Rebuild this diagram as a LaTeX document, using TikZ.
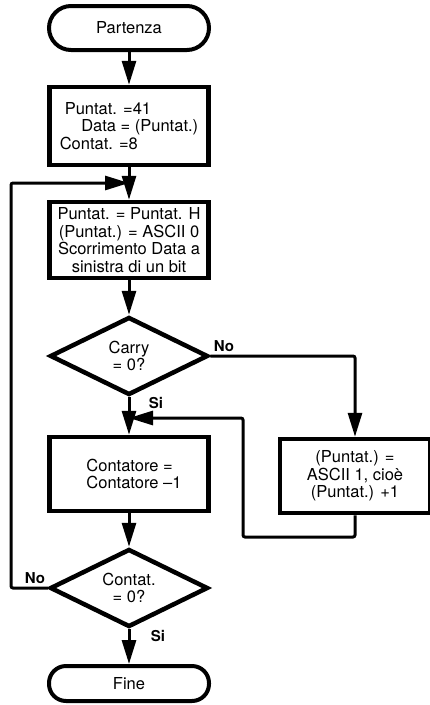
\documentclass[tikz,border=0pt]{standalone}
\usepackage{fontspec}
\setmainfont{TeX Gyre Heros}
\usetikzlibrary{positioning, arrows.meta, shapes.geometric}

\begin{document}
\begin{tikzpicture}[x=1pt, y=-1pt, >={Triangle[length=24pt,width=14pt]},
  font=\fontsize{16.5}{17.5}\selectfont,
  term/.style={draw, line width=4pt, rounded corners=#1, inner sep=2pt, minimum width=160pt},
  proc/.style={draw, line width=4.5pt, inner sep=1pt, minimum width=159pt, minimum height=76pt},
  test/.style={draw, diamond, aspect=2, line width=4.5pt, inner sep=0pt, align=center,
    minimum width=158pt, minimum height=78pt},
  conn/.style={line width=3pt, rounded corners=2pt},
  lbl/.style={font=\fontsize{15}{16}\selectfont\bfseries}]
  \useasboundingbox (0,0) rectangle (430,705);
  \node[term=22pt, minimum height=44pt] (start) at (129,28) {Partenza};
  \node[proc, minimum height=78pt, align=left] (init) at (129,126)
    {\hspace{0.3em}Puntat. =41\\ \hspace{1.3em}Data = (Puntat.)\\Contat. =8};
  \node[proc, align=center] (shift) at (129,240)
    {Puntat. = Puntat. H\\(Puntat.) = ASCII 0\\Scorrimento Data a\\sinistra di un bit};
  \node[test] (carry) at (129,356) {Carry\\= 0?};
  \node[proc, minimum height=74pt, align=left] (dec) at (129,474)
    {\hspace{0.6em}Contatore =\\ \hspace{0.6em}Contatore --1};
  \node[proc, minimum width=150pt, minimum height=74pt, align=center] (set1) at (355,476)
    {(Puntat.) =\\ASCII 1, cioè\\(Puntat.) +1};
  \node[test] (cnt) at (129,588) {Contat.\\= 0?};
  \node[term=17pt, minimum height=35pt] (stop) at (129,683.5) {Fine};

  \coordinate (loop) at (11,183);
  \coordinate (join1) at (129,183);
  \coordinate (ret) at (243,537);
  \coordinate (join2) at (129,418);

  \draw[conn,->] (start) -- (init);
  \draw[conn,->] (init) -- (shift);
  \draw[conn,->] (shift) -- (carry);
  \draw[conn,->] (carry) -- (dec);
  \draw[conn,->] (dec) -- (cnt);
  \draw[conn,->] (cnt) -- (stop);
  \draw[conn,->] (carry.east) -| (set1);
  \draw[conn,->] (set1.south) |- (ret) |- (join2);
  \draw[conn,->] (cnt.west) -| (loop) -- (join1);

  \node[lbl] (no1) at (224,346) {No};
  \node[lbl] (si1) at (156,403) {Si};
  \node[lbl] (no2) at (35,578) {No};
  \node[lbl] (si2) at (158,636) {Si};
\end{tikzpicture}
\end{document}
